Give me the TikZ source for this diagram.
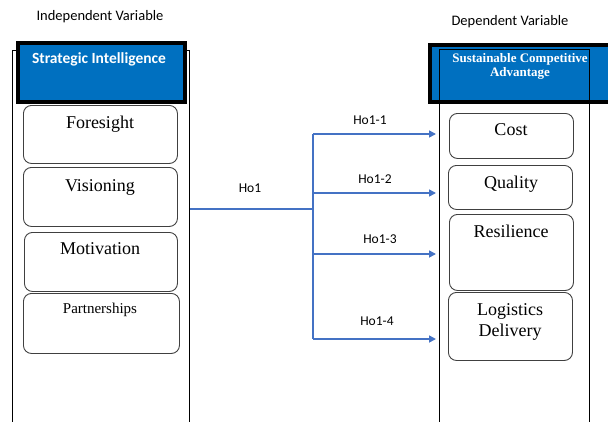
\documentclass[tikz,border=0pt]{standalone}
\usepackage{fontspec}
\setmainfont{Liberation Serif}
\newfontfamily\calib{Carlito}
\usetikzlibrary{arrows.meta}
\definecolor{hdrblue}{HTML}{0070C0}
\definecolor{arrblue}{HTML}{4472C4}
\definecolor{boxgray}{HTML}{404040}
\begin{document}
\begin{tikzpicture}[x=1pt,y=-1pt,
  outer/.style={draw=black,line width=0.9pt},
  hdr/.style={draw=black,fill=hdrblue,line width=3.5pt,inner sep=0pt,anchor=north west},
  itembox/.style={draw=boxgray,line width=0.9pt,rounded corners=8pt,inner sep=0pt,anchor=north west},
  itemtxt/.style={font=\fontsize{18}{21}\selectfont,align=center,anchor=north,inner sep=0pt},
  varlbl/.style={font=\calib\fontsize{14.5}{17}\selectfont,inner sep=0pt},
  hlbl/.style={font=\calib\fontsize{13.5}{16}\selectfont,inner sep=0pt},
  link/.style={draw=arrblue,line width=1.6pt},
  arr/.style={link,-{Triangle[length=7pt,width=7pt]}}]
\useasboundingbox (0,0) rectangle (608,421);
\clip (0,0) rectangle (608,421);
% top labels
\node[varlbl] (lindep) at (100,17) {Independent Variable};
\node[varlbl] (ldep) at (510,22) {Dependent Variable};
% left frame and header
\draw[outer] (12,425) -- (12,50) -- (189,50) -- (189,425);
\node[hdr,minimum width=167pt,minimum height=59pt] (hl) at (16,41) {};
\node[font=\calib\bfseries\fontsize{15.5}{18}\selectfont,text=white,anchor=north,inner sep=0pt] (hlt) at (99,52) {Strategic Intelligence};
% right header and frame
\node[hdr,minimum width=190pt,minimum height=57pt] (hr) at (428,43) {};
\node[font=\bfseries\fontsize{13}{14.5}\selectfont,text=white,align=center,anchor=north,inner sep=0pt] (hrt) at (520,53) {Sustainable Competitive\\Advantage};
\draw[outer] (439,425) -- (439,49) -- (589,49) -- (589,425);
% left items
\node[itembox,minimum width=154pt,minimum height=58pt] (fore) at (23,105) {};
\node[itemtxt] at (100,116) {Foresight};
\node[itembox,minimum width=154pt,minimum height=59pt] (vis) at (23,167) {};
\node[itemtxt] at (100,179) {Visioning};
\node[itembox,minimum width=153pt,minimum height=59pt] (mot) at (24,232) {};
\node[itemtxt] at (100,242) {Motivation};
\node[itembox,minimum width=156pt,minimum height=60pt] (part) at (23,293) {};
\node[itemtxt,font=\fontsize{15}{18}\selectfont] at (100,303) {Partnerships};
% right items
\node[itembox,minimum width=124pt,minimum height=45pt] (cost) at (449,113) {};
\node[itemtxt] at (511,123) {Cost};
\node[itembox,minimum width=124pt,minimum height=44pt] (qual) at (448,165) {};
\node[itemtxt] at (511,176) {Quality};
\node[itembox,minimum width=124pt,minimum height=76pt] (res) at (449,214) {};
\node[itemtxt] at (511,225) {Resilience};
\node[itembox,minimum width=124pt,minimum height=68pt] (log) at (448,292) {};
\node[itemtxt] at (510,303) {Logistics\\Delivery};
% connectors
\coordinate (s) at (190,209);
\coordinate (j) at (313,209);
\coordinate (jt) at (313,134);
\coordinate (jb) at (313,339);
\coordinate (b2) at (313,193);
\coordinate (b3) at (313,254);
\coordinate (e1) at (436,134);
\coordinate (e2) at (436,193);
\coordinate (e3) at (436,254);
\coordinate (e4) at (436,339);
\draw[link] (s) -- (j);
\draw[link] (jt) -- (jb);
\draw[arr] (jt) -- (e1);
\draw[arr] (b2) -- (e2);
\draw[arr] (b3) -- (e3);
\draw[arr] (jb) -- (e4);
\node[hlbl] (h0) at (250,188) {Ho1};
\node[hlbl] (h1) at (370,120) {Ho1-1};
\node[hlbl] (h2) at (375,179) {Ho1-2};
\node[hlbl] (h3) at (380,239) {Ho1-3};
\node[hlbl] (h4) at (377,321) {Ho1-4};
\end{tikzpicture}
\end{document}
